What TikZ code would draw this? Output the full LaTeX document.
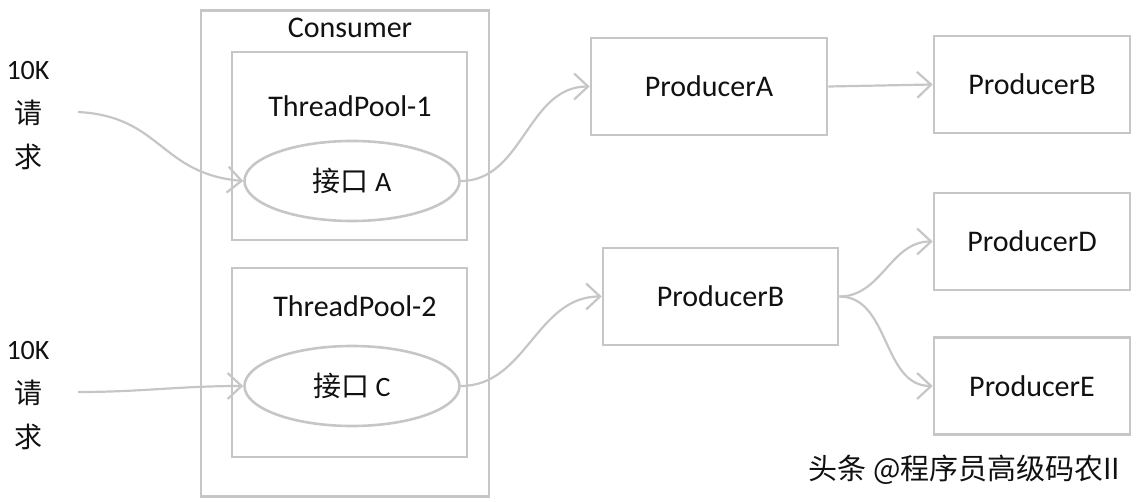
\documentclass[tikz,border=0pt]{standalone}
\usepackage{fontspec}
\setmainfont{Carlito}
\newfontfamily\cjk{Noto Sans CJK SC}
\usetikzlibrary{arrows.meta, shapes.geometric}
\definecolor{cLine}{HTML}{C6C6C6}
\definecolor{cText}{HTML}{111111}

\begin{document}
\begin{tikzpicture}[x=1pt, y=-1pt,
    >={Straight Barb[length=14pt, width=26pt]},
    frame/.style={
        rectangle, draw=cLine, line width=2.6pt, inner sep=0pt
    },
    prodbox/.style={
        rectangle, draw=cLine, line width=2.6pt, inner sep=0pt,
        minimum height=97pt, minimum width=#1,
        font=\fontsize{30}{36}\selectfont, text=cText
    },
    iface/.style={
        ellipse, draw=cLine, line width=2.6pt, inner sep=0pt,
        minimum width=215pt, minimum height=80pt,
        font=\fontsize{28}{34}\selectfont, text=cText
    },
    title/.style={font=\fontsize{30}{36}\selectfont, text=cText},
    req/.style={font=\fontsize{28}{44}\selectfont, text=cText, align=center},
    arr/.style={->, line width=2.2pt, color=cLine},
]
\useasboundingbox (0,0) rectangle (1139,502);

% Consumer with its two thread pools
\node[frame, minimum width=288pt, minimum height=486pt] (consumer) at (345,253.5) {};
\node[title] (consumerlbl) at (350,28) {Consumer};
\node[frame, minimum width=235pt, minimum height=188pt] (pool1) at (349.5,146) {};
\node[frame, minimum width=235pt, minimum height=189pt] (pool2) at (349.5,362.5) {};
\node[title] (pool1lbl) at (350,106) {ThreadPool-1};
\node[title] (pool2lbl) at (355,306) {ThreadPool-2};
\node[iface] (ifA) at (352,181) {{\cjk 接口} A};
\node[iface] (ifC) at (352,386) {{\cjk 接口} C};

% Incoming requests
\node[req] (reqA) at (28,116) {10K\\{\cjk 请}\\{\cjk 求}};
\node[req] (reqC) at (28,396) {10K\\{\cjk 请}\\{\cjk 求}};
\coordinate (inA) at (78,112);
\coordinate (inC) at (78,392);

% Producers
\node[prodbox=236pt] (prodA)  at (709,86.5)  {ProducerA};
\node[prodbox=196pt] (prodB1) at (1032,84.5) {ProducerB};
\node[prodbox=235pt] (prodB2) at (720.5,296.5) {ProducerB};
\node[prodbox=196pt] (prodD)  at (1032,241.5) {ProducerD};
\node[prodbox=196pt] (prodE)  at (1032,386) {ProducerE};

% Watermark
\node[font=\fontsize{29}{34}\selectfont, text=cText, anchor=east] (mark) at (1124,470)
    {\cjk 头条 @程序员高级码农II};

% Arrows
\draw[arr] (inA) to[out=-3, in=175, looseness=1.2] (ifA.west);
\draw[arr] (inC) to[out=0, in=180] (ifC.west);
\draw[arr] (ifA.east) to[out=0, in=180] (prodA.west);
\draw[arr] (prodA.east) -- (prodB1.west);
\draw[arr] (ifC.east) to[out=0, in=180] (prodB2.west);
\draw[arr] (prodB2.east) to[out=0, in=180] (prodD.west);
\draw[arr] (prodB2.east) to[out=0, in=180] (prodE.west);

\end{tikzpicture}
\end{document}
